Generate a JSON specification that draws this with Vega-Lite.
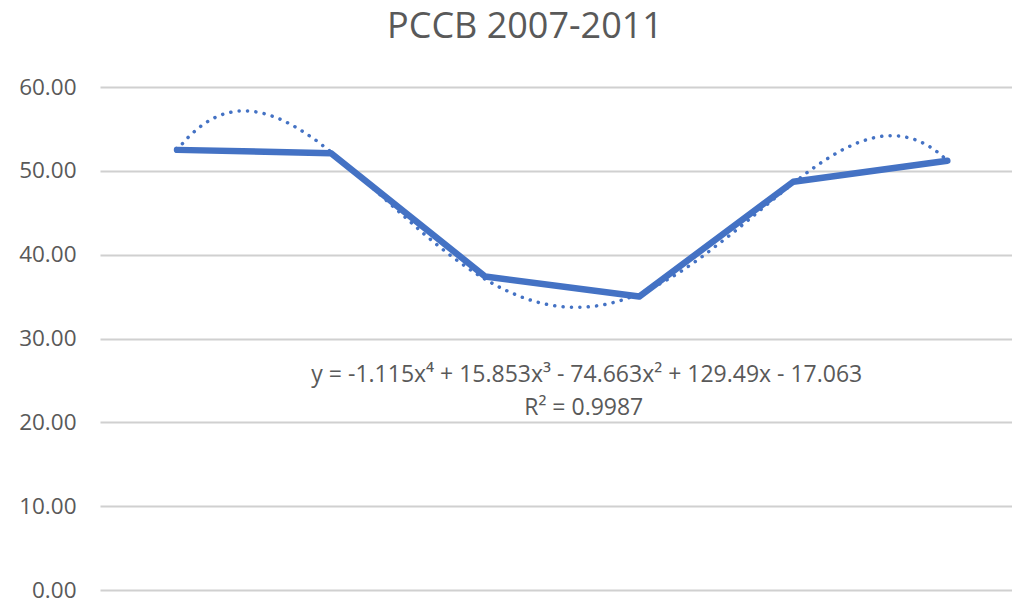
{
  "$schema": "https://vega.github.io/schema/vega-lite/v6.json",
  "width": 912,
  "height": 503,
  "autosize": {"type": "none"},
  "padding": {"left": 100, "top": 87, "right": 0, "bottom": 13},
  "background": "white",
  "title": {
    "text": "PCCB 2007-2011",
    "font": "Open Sans",
    "fontSize": 36,
    "fontWeight": "normal",
    "color": "#595959",
    "anchor": "middle",
    "dx": -31,
    "offset": 30
  },
  "config": {
    "view": {"stroke": null},
    "font": "Open Sans"
  },
  "data": {
    "values": [
      {"x": 1, "v": 52.5},
      {"x": 2, "v": 52.1},
      {"x": 3, "v": 37.4},
      {"x": 4, "v": 35.0},
      {"x": 5, "v": 48.7},
      {"x": 6, "v": 51.2}
    ]
  },
  "layer": [
    {
      "transform": [
        {"regression": "v", "on": "x", "method": "poly", "order": 4, "extent": [1, 6]}
      ],
      "mark": {"type": "line", "color": "#4472C4", "strokeWidth": 3.5, "strokeDash": [0.1, 8.3], "strokeCap": "round", "clip": true},
      "encoding": {
        "x": {"field": "x", "type": "quantitative", "scale": {"domain": [0.5, 6.42], "nice": false, "zero": false}, "axis": null},
        "y": {"field": "v", "type": "quantitative", "scale": {"domain": [0, 60], "nice": false}}
      }
    },
    {
      "mark": {"type": "line", "color": "#4472C4", "strokeWidth": 6.5, "strokeCap": "round", "strokeJoin": "round"},
      "encoding": {
        "x": {"field": "x", "type": "quantitative", "scale": {"domain": [0.5, 6.42], "nice": false, "zero": false}, "axis": null},
        "y": {
          "field": "v", "type": "quantitative",
          "scale": {"domain": [0, 60], "nice": false},
          "axis": {
            "title": null,
            "values": [0, 10, 20, 30, 40, 50, 60],
            "format": ".2f",
            "labelFont": "Open Sans",
            "labelFontSize": 22.5,
            "labelColor": "#595959",
            "labelPadding": 24,
            "ticks": false,
            "domain": false,
            "grid": true,
            "gridColor": "#d0d0d0",
            "gridWidth": 2
          }
        }
      }
    },
    {
      "data": {
        "values": [
          {"x": 3.66, "v": 25.7, "label": "y = -1.115x⁴ + 15.853x³ - 74.663x² + 129.49x - 17.063"},
          {"x": 3.64, "v": 21.7, "label": "R² = 0.9987"}
        ]
      },
      "mark": {"type": "text", "font": "Open Sans", "fontSize": 23, "color": "#595959", "align": "center", "baseline": "middle"},
      "encoding": {
        "x": {"field": "x", "type": "quantitative", "scale": {"domain": [0.5, 6.42], "nice": false, "zero": false}, "axis": null},
        "y": {"field": "v", "type": "quantitative", "scale": {"domain": [0, 60], "nice": false}},
        "text": {"field": "label"}
      }
    }
  ]
}
